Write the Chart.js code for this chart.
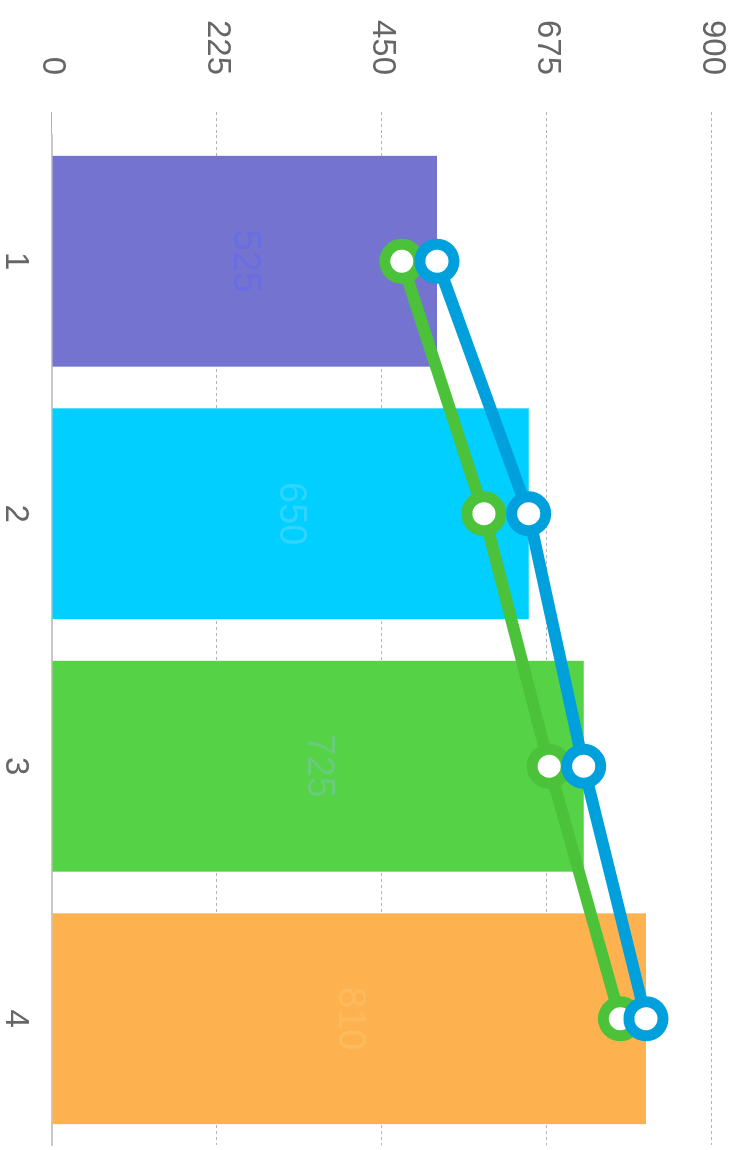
<!DOCTYPE html>
<html>
<head>
<meta charset="utf-8">
<script src="https://cdn.jsdelivr.net/npm/chart.js@4.4.0/dist/chart.umd.min.js"></script>
<style>
  html, body { margin: 0; padding: 0; background: #fff; overflow: hidden; }
  /* the chart is drawn upright, then turned a quarter clockwise */
  #wrap {
    position: absolute; left: 0; top: 0;
    width: 1150px; height: 736px;
    transform-origin: 0 0;
    transform: translate(736px, 0) rotate(90deg);
  }
</style>
</head>
<body>
<div id="wrap"><canvas id="chart" width="1150" height="736"></canvas></div>
<script>
const categories = ["1", "2", "3", "4"];
const barValues = [525, 650, 725, 810];
const blueLine = [525, 650, 725, 810];
const greenLine = [477, 589, 678, 775];
const yTicks = [0, 225, 450, 675, 900];

const barColors = ["#7474d0", "#00cfff", "#55d246", "#fdb24f"];
const labelColors = ["#6b6be2", "#30d5ff", "#68cc7a", "#fdbb5e"];

const FONT = "'Liberation Sans', Arial, sans-serif";

const barLabels = {
  id: "barLabels",
  afterDatasetDraw(chart, args) {
    if (chart.data.datasets[args.index].type !== "bar") return;
    const ctx = chart.ctx;
    ctx.save();
    ctx.font = "38px " + FONT;
    ctx.textAlign = "center";
    ctx.textBaseline = "middle";
    args.meta.data.forEach((el, i) => {
      ctx.fillStyle = labelColors[i];
      ctx.fillText(String(barValues[i]), el.x, (el.y + el.base) / 2);
    });
    ctx.restore();
  }
};

new Chart(document.getElementById("chart"), {
  data: {
    labels: categories,
    datasets: [
      {
        type: "line",
        data: blueLine,
        borderColor: "#00a0dc",
        borderWidth: 12,
        pointRadius: 17,
        pointBorderWidth: 11,
        pointBackgroundColor: "#fff",
        pointBorderColor: "#00a0dc",
        tension: 0,
        order: 0
      },
      {
        type: "line",
        data: greenLine,
        borderColor: "#4cc23a",
        borderWidth: 12,
        pointRadius: 17,
        pointBorderWidth: 11,
        pointBackgroundColor: "#fff",
        pointBorderColor: "#4cc23a",
        tension: 0,
        order: 1
      },
      {
        type: "bar",
        data: barValues,
        backgroundColor: barColors,
        barPercentage: 1,
        categoryPercentage: 0.835,
        order: 2
      }
    ]
  },
  options: {
    responsive: false,
    animation: false,
    devicePixelRatio: 1,
    layout: { autoPadding: false, padding: { top: 24, right: 5, left: 0, bottom: 0 } },
    plugins: { legend: { display: false }, tooltip: { enabled: false } },
    scales: {
      x: {
        grid: { display: false },
        border: { display: true, color: "#c8c8c8", width: 2 },
        ticks: { color: "#666", font: { size: 33, family: FONT }, padding: 9 },
        afterFit: s => { s.height = 52; s.paddingLeft = 0; s.paddingRight = 0; }
      },
      y: {
        min: 0,
        max: 900,
        afterBuildTicks: s => { s.ticks = yTicks.map(v => ({ value: v })); },
        grid: {
          color: "#b4b4b4",
          lineWidth: 1,
          tickLength: 23,
          tickColor: "#b4b4b4",
          tickBorderDash: c => (c.tick && c.tick.value === 0 ? [] : [3, 3])
        },
        border: { display: false, dash: [3, 3] },
        ticks: { color: "#666", font: { size: 33, family: FONT }, padding: 37 },
        afterFit: s => { s.width = 135; s.paddingTop = 0; s.paddingBottom = 0; }
      }
    }
  },
  plugins: [barLabels]
});
</script>
</body>
</html>
